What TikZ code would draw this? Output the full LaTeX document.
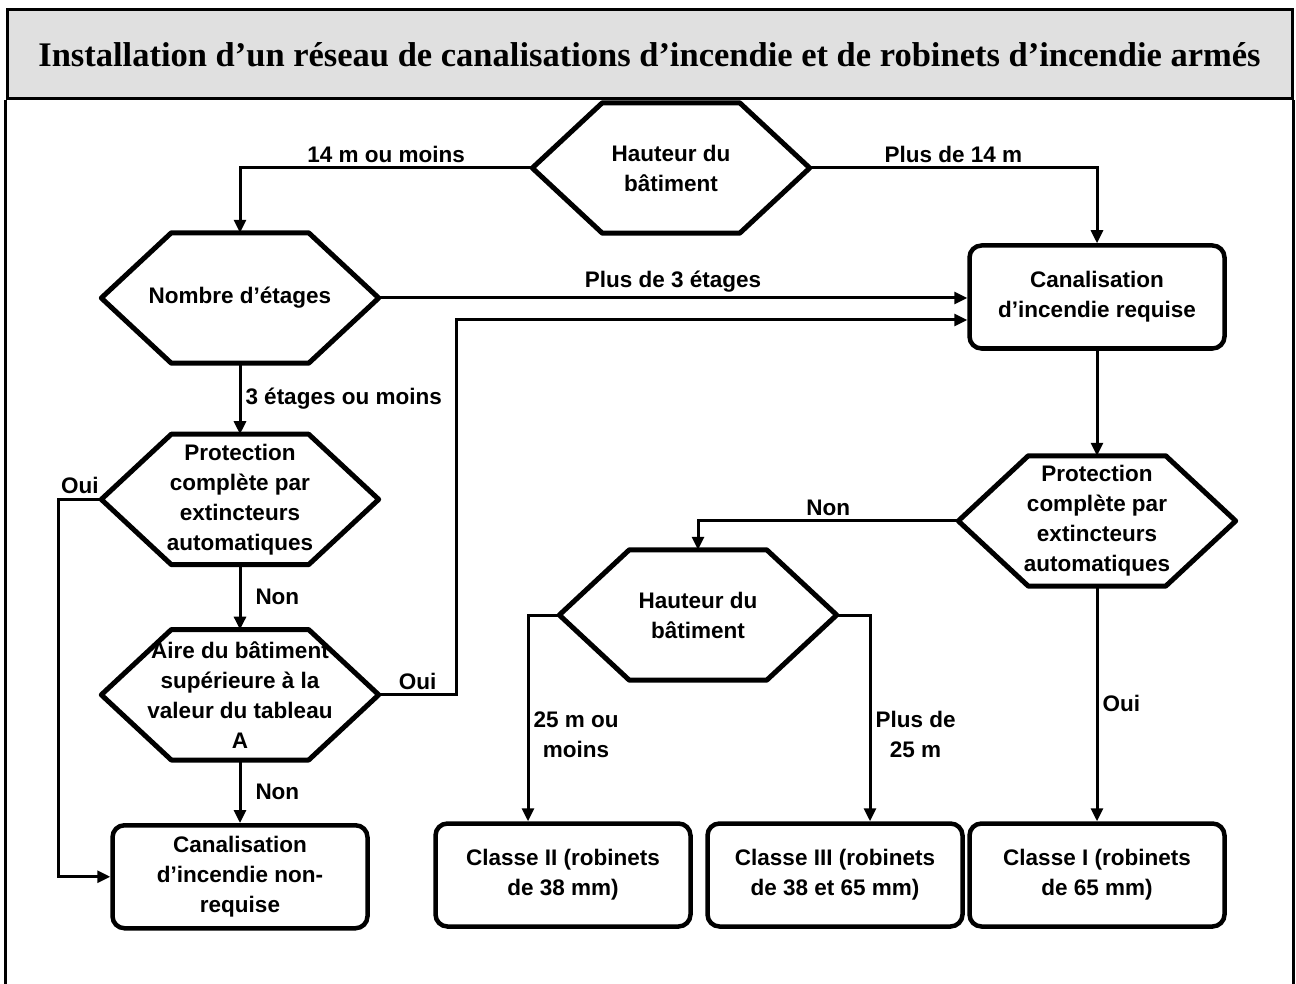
\documentclass[tikz,border=0pt]{standalone}
\usepackage{fontspec}
\setmainfont{Liberation Serif}
\newfontfamily\cfsans{Liberation Sans}
\usetikzlibrary{arrows.meta,positioning}
\definecolor{cftitle}{HTML}{E0E0E0}
\tikzset{
  cf/txt/.style={font=\cfsans\bfseries\fontsize{22.5}{30}\selectfont},
  cf/hex/.style={
    cf/txt, minimum width=277pt, minimum height=130pt, inner sep=0pt, align=center,
    append after command={\pgfextra{\let\cfhex\tikzlastnode
      \draw[line width=5pt, line join=round]
        (\cfhex.west) -- ([xshift=70pt]\cfhex.north west)
        -- ([xshift=-70pt]\cfhex.north east) -- (\cfhex.east)
        -- ([xshift=-70pt]\cfhex.south east)
        -- ([xshift=70pt]\cfhex.south west) -- cycle;}}
  },
  cf/box/.style={
    cf/txt, draw, line width=4.5pt, rounded corners=12pt, align=center,
    minimum width=255pt, minimum height=103pt, inner sep=0pt
  },
  cf/lbl/.style={cf/txt, inner sep=4pt, align=center},
  cf/arr/.style={-{Triangle[length=13pt,width=12pt]}, line width=3pt}
}
\begin{document}
\begin{tikzpicture}[x=1pt, y=-1pt]
  \useasboundingbox (0,0) rectangle (1296,984);
  \coordinate (frameb) at (0,984);

  % cadre et titre
  \node[draw, line width=3pt, fill=cftitle, minimum width=1285pt, minimum height=89pt,
    font=\bfseries\fontsize{34.5}{40}\selectfont] (title) at (649.5,54.5)
    {Installation d’un réseau de canalisations d’incendie et de robinets d’incendie armés};
  \draw[line width=3pt] (title.south west) -- (title.south west |- frameb);
  \draw[line width=3pt] (title.south east) -- (title.south east |- frameb);

  % colonne de gauche
  \node[cf/hex] (haut) at (671,168) {Hauteur du\\bâtiment};
  \node[cf/hex] (etages) at (240,298) {Nombre d’étages};
  \node[cf/hex, below=71pt of etages] (prot1)
    {Protection\\complète par\\extincteurs\\automatiques};
  \node[cf/hex, below=65pt of prot1] (aire)
    {Aire du bâtiment\\supérieure à la\\valeur du tableau\\A};
  \node[cf/box, below=63pt of aire] (nonreq) {Canalisation\\d’incendie non-\\requise};

  % colonne de droite
  \node[cf/box] (req) at (1097,297) {Canalisation\\d’incendie requise};
  \node[cf/hex, below=105pt of req] (prot2)
    {Protection\\complète par\\extincteurs\\automatiques};
  \node[cf/hex] (haut2) at (698,615) {Hauteur du\\bâtiment};

  \node[cf/box] (classe2) at (563,875) {Classe II (robinets\\de 38 mm)};
  \node[cf/box] (classe3) at (835,875) {Classe III (robinets\\de 38 et 65 mm)};
  \node[cf/box] (classe1) at (1097,875) {Classe I (robinets\\de 65 mm)};

  \draw[cf/arr] (haut.west) -| node[cf/lbl, above, pos=0.25] {14 m ou moins} (etages.north);
  \draw[cf/arr] (haut.east) -| node[cf/lbl, above, pos=0.25] {Plus de 14 m} (req.north);
  \draw[cf/arr] (etages.east) -- node[cf/lbl, above] {Plus de 3 étages} (etages.east -| req.west);
  \draw[cf/arr] (aire.east) -- node[cf/lbl, above] {Oui} ++(78,0) |- ([yshift=-23pt]req.west);
  \draw[cf/arr] (etages.south) -- node[cf/lbl, right] {3 étages ou moins} (prot1.north);
  \draw[cf/arr] (prot1.south) -- node[cf/lbl, right, xshift=10pt] {Non} (aire.north);
  \draw[cf/arr] (aire.south) -- node[cf/lbl, right, xshift=10pt] {Non} (nonreq.north);
  \draw[cf/arr] (prot1.west) -- node[cf/lbl, above] {Oui} ++(-43,0) |- (nonreq.west);
  \draw[cf/arr] (req.south) -- (prot2.north);
  \draw[cf/arr] (prot2.west) -| node[cf/lbl, above, pos=0.25] {Non} (haut2.north);
  \draw[cf/arr] (prot2.south) -- node[cf/lbl, right] {Oui} (classe1.north);
  \draw[cf/arr] (haut2.west) -| node[cf/lbl, right, pos=0.79] {25 m ou\\moins}
    ([xshift=-35pt]classe2.north);
  \draw[cf/arr] (haut2.east) -| node[cf/lbl, right, pos=0.79] {Plus de\\25 m}
    ([xshift=35pt]classe3.north);
\end{tikzpicture}
\end{document}
